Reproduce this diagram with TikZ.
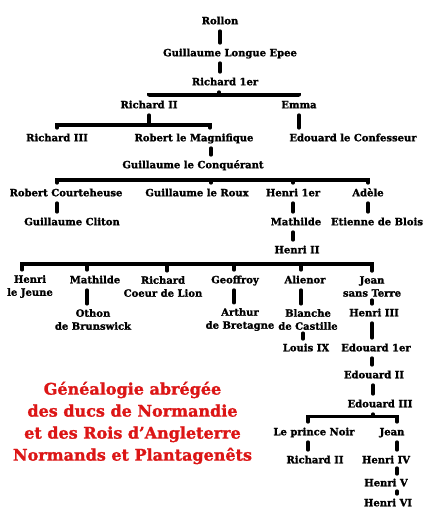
\documentclass[tikz,border=0pt]{standalone}
\usepackage{fontspec}
\setmainfont{DejaVu Serif}[BoldFeatures={FakeBold=1.5}]
\definecolor{rougetitre}{RGB}{220,22,22}
\newcommand\nomfont{\bfseries\fontsize{10}{13}\selectfont}
\newcommand\titrefont{\bfseries\fontsize{16}{22}\selectfont}
\begin{document}
\begin{tikzpicture}[x=1pt, y=-1pt,
  pers/.style={font=\nomfont, inner sep=3pt, text height=8pt, text depth=1.5pt},
  pers2/.style={font=\nomfont, inner sep=3pt, align=center},
  lien/.style={line width=3.2pt, line cap=round, shorten <=2pt, shorten >=2pt},
  court/.style={shorten <=0pt, shorten >=1pt}]
\useasboundingbox (0,0) rectangle (425,510);
% ducs de Normandie
\node[pers] (rollon) at (220,21) {Rollon};
\node[pers] (gle) at (230,53) {Guillaume Longue Epee};
\node[pers] (r1) at (225,82) {Richard 1er};
\node[pers] (r2) at (149,105) {Richard II};
\node[pers] (emma) at (299,105) {Emma};
\node[pers] (r3) at (57,138) {Richard III};
\node[pers] (rm) at (194,138) {Robert le Magnifique};
\node[pers] (ec) at (353,138) {Edouard le Confesseur};
\node[pers] (gc) at (193,165) {Guillaume le Conquérant};
\node[pers] (rc) at (66,193) {Robert Courteheuse};
\node[pers] (gr) at (197,193) {Guillaume le Roux};
\node[pers] (h1) at (293,193) {Henri 1er};
\node[pers] (adele) at (368,193) {Adèle};
\node[pers] (gcl) at (72,222) {Guillaume Cliton};
\node[pers] (mat) at (296,222) {Mathilde};
\node[pers] (eb) at (377,222) {Etienne de Blois};
\node[pers] (h2) at (297,250) {Henri II};
% Plantagenets
\node[pers2] (hj) at (30,286.5) {Henri\\le Jeune};
\node[pers] (mat2) at (95,280) {Mathilde};
\node[pers2] (rcl) at (163,286.5) {Richard\\Coeur de Lion};
\node[pers] (geo) at (235,280) {Geoffroy};
\node[pers] (ali) at (305,280) {Alienor};
\node[pers2] (jst) at (372,286.5) {Jean\\sans Terre};
\node[pers2] (othon) at (93,319.5) {Othon\\de Brunswick};
\node[pers2] (arthur) at (240,319.5) {Arthur\\de Bretagne};
\node[pers2] (blanche) at (308,319.5) {Blanche\\de Castille};
\node[pers] (louis) at (306,348) {Louis IX};
\node[pers] (h3) at (374,313) {Henri III};
\node[pers] (e1) at (376,348) {Edouard 1er};
\node[pers] (e2) at (374,375) {Edouard II};
\node[pers] (e3) at (380,404) {Edouard III};
\node[pers] (pn) at (314,432) {Le prince Noir};
\node[pers] (jean) at (392,432) {Jean};
\node[pers] (r2b) at (315,460) {Richard II};
\node[pers] (h4) at (386,460) {Henri IV};
\node[pers] (h5) at (386,483) {Henri V};
\node[pers] (h6) at (388,503) {Henri VI};
\node[font=\titrefont, text=rougetitre, align=center] (titre) at (132.5,423)
  {Généalogie abrégée\\des ducs de Normandie\\et des Rois d’Angleterre\\Normands et Plantagenêts};
% barres
\coordinate (b1) at (219,95);
\coordinate (b2) at (149,125);
\coordinate (b3) at (293,180);
\coordinate (b4) at (297,264);
\coordinate (b5) at (373,416.5);
% liens
\draw[lien] (rollon.south) -- (rollon.south |- gle.north);
\draw[lien] (gle.south -| rollon) -- (r1.north -| rollon);
\draw[lien] (r1.south -| b1) -- (b1);
\draw[lien] (r2.north) |- (b1) -| (emma.north);
\draw[lien] (r2.south) -- (b2);
\draw[lien] (r3.north) |- (b2) -| ([xshift=16pt]rm.north);
\draw[lien] (emma.south) -- (emma.south |- ec.north);
\draw[lien] ([xshift=17pt]rm.south) -- ([xshift=17pt]rm.south |- gc.north);
\draw[lien] ([xshift=-9pt]rc.north) |- (b3) -| (adele.north);
\draw[lien] ([xshift=14pt]gr.north) -- ([xshift=14pt]gr.north |- b3);
\draw[lien] (h1.north) -- (h1.north |- b3);
\draw[lien] ([xshift=-9pt]rc.south) -- ([xshift=-9pt]rc.south |- gcl.north);
\draw[lien] (h1.south) -- (h1.south |- mat.north);
\draw[lien] (adele.south) -- (adele.south |- eb.north);
\draw[lien] (mat.south -| h1) -- (h2.north -| h1);
\draw[lien] ([xshift=-8pt]hj.north) |- (b4) -| (jst.north);
\draw[lien] ([xshift=-8pt]mat2.north) -- ([xshift=-8pt]mat2.north |- b4);
\draw[lien] ([xshift=4pt]rcl.north) -- ([xshift=4pt]rcl.north |- b4);
\draw[lien] ([xshift=-1pt]geo.north) -- ([xshift=-1pt]geo.north |- b4);
\draw[lien] ([xshift=-4pt]ali.north) -- ([xshift=-4pt]ali.north |- b4);
\draw[lien] ([xshift=-8pt]mat2.south) -- ([xshift=-8pt]mat2.south |- othon.north);
\draw[lien] ([xshift=-1pt]geo.south) -- ([xshift=-1pt]geo.south |- arthur.north);
\draw[lien] ([xshift=-4pt]ali.south) -- ([xshift=-4pt]ali.south |- blanche.north);
\draw[lien, court] ([xshift=-5pt]blanche.south) -- ([xshift=-5pt]blanche.south |- louis.north);
\draw[lien, court] (jst.south) -- (jst.south |- h3.north);
\draw[lien] (h3.south -| jst) -- (e1.north -| jst);
\draw[lien] (e1.south -| jst) -- (e2.north -| jst);
\draw[lien] (e2.south -| b5) -- (e3.north -| b5);
\draw[lien] (e3.south -| b5) -- (b5);
\draw[lien] ([xshift=-6pt]pn.north) |- (b5) -| ([xshift=5pt]jean.north);
\draw[lien] ([xshift=-6pt]pn.south) -- ([xshift=-6pt]pn.south |- r2b.north);
\draw[lien] ([xshift=5pt]jean.south) -- ([xshift=5pt]jean.south |- h4.north);
\draw[lien, court] ([xshift=11pt]h4.south) -- ([xshift=11pt]h4.south |- h5.north);
\draw[lien, court] ([xshift=11pt]h5.south) -- ([xshift=11pt]h5.south |- h6.north);
\end{tikzpicture}
\end{document}
